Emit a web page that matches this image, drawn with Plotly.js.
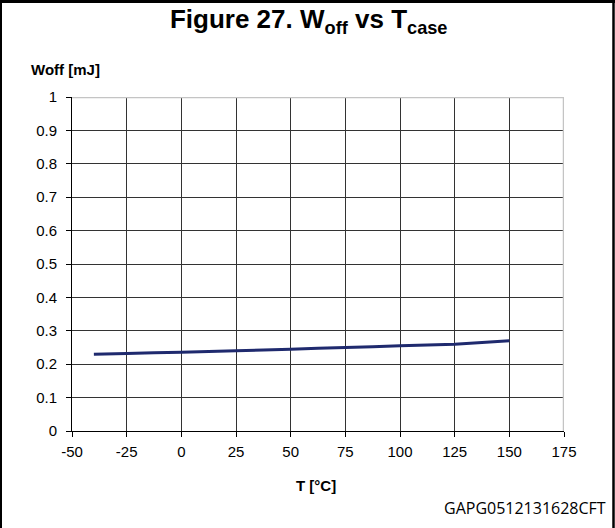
<!DOCTYPE html>
<html>
<head>
<meta charset="utf-8">
<script src="https://cdn.plot.ly/plotly-3.0.1.min.js"></script>
<style>
  html, body { margin: 0; padding: 0; background: #fff; }
  #chart { width: 615px; height: 528px; }
</style>
</head>
<body>
<div id="chart"></div>
<script>
// Data
const temperature = [-40, -25, 0, 25, 50, 75, 100, 125, 150];
const woff = [0.230, 0.232, 0.236, 0.240, 0.245, 0.250, 0.255, 0.260, 0.270];
const xTicks = [-50, -25, 0, 25, 50, 75, 100, 125, 150, 175];
const yTicks = [0, 0.1, 0.2, 0.3, 0.4, 0.5, 0.6, 0.7, 0.8, 0.9, 1];
const yTickLabels = ['0', '0.1', '0.2', '0.3', '0.4', '0.5', '0.6', '0.7', '0.8', '0.9', '1'];

const W = 615, H = 528;
const M = { l: 72, r: 51, t: 97, b: 97 };
const pw = W - M.l - M.r, ph = H - M.t - M.b;
const px = x => (x - M.l) / pw;
const py = y => (H - M.b - y) / ph;

const trace = {
  x: temperature,
  y: woff,
  type: 'scatter',
  mode: 'lines',
  line: { color: '#1f2a6e', width: 3, shape: 'spline', smoothing: 0.3 },
  hoverinfo: 'x+y'
};

const tickFont = { family: 'Liberation Sans, Arial, sans-serif', size: 15, color: '#000' };

const layout = {
  width: W, height: H,
  margin: M,
  paper_bgcolor: '#fff',
  plot_bgcolor: '#fff',
  showlegend: false,
  title: {
    text: 'Figure 27. W<sub>off</sub> vs T<sub>case</sub>',
    font: { family: 'Liberation Sans, Arial, sans-serif', size: 26, color: '#000', weight: 'bold' },
    x: 0.502, xanchor: 'center', xref: 'container',
    y: 1 - 19 / H, yanchor: 'middle', yref: 'container'
  },
  xaxis: {
    range: [-50, 175],
    tickvals: xTicks,
    ticktext: xTicks.map(String),
    showgrid: true, gridcolor: '#333', gridwidth: 1,
    zeroline: false,
    showline: true, linecolor: '#000', linewidth: 1,
    ticks: 'outside', ticklen: 5, tickcolor: '#000', tickwidth: 1,
    ticklabelstandoff: 2,
    tickfont: tickFont,
    fixedrange: true
  },
  yaxis: {
    range: [0, 1],
    tickvals: yTicks,
    ticktext: yTickLabels,
    showgrid: true, gridcolor: '#333', gridwidth: 1,
    zeroline: false,
    showline: true, linecolor: '#000', linewidth: 1,
    ticks: 'outside', ticklen: 5, tickcolor: '#000', tickwidth: 1,
    ticklabelstandoff: 6,
    tickfont: tickFont,
    fixedrange: true
  },
  annotations: [
    {
      text: '<b>Woff [mJ]</b>', xref: 'paper', yref: 'paper',
      x: px(29), y: py(69), xanchor: 'left', yanchor: 'middle', showarrow: false,
      font: { family: 'Liberation Sans, Arial, sans-serif', size: 15, color: '#000' }
    },
    {
      text: '<b>T [°C]</b>', xref: 'paper', yref: 'paper',
      x: px(316), y: py(485), xanchor: 'center', yanchor: 'middle', showarrow: false,
      font: { family: 'Liberation Sans, Arial, sans-serif', size: 15, color: '#000' }
    },
    {
      text: 'GAPG0512131628CFT', xref: 'paper', yref: 'paper',
      x: px(608), y: py(508), xanchor: 'right', yanchor: 'middle', showarrow: false,
      font: { family: 'Open Sans, Noto Sans, sans-serif', size: 16, color: '#000' }
    }
  ],
  shapes: [
    // light grey top and right plot borders
    { type: 'line', xref: 'x', yref: 'y', x0: -50, x1: 175, y0: 1, y1: 1, line: { color: '#c4c4c4', width: 2.5 } },
    { type: 'line', xref: 'x', yref: 'y', x0: 175, x1: 175, y0: 0, y1: 1, line: { color: '#c4c4c4', width: 2.5 } },
    // outer figure frame
    { type: 'line', xref: 'paper', yref: 'paper', x0: px(0), x1: px(W), y0: py(1.5), y1: py(1.5), line: { color: '#000', width: 3 }, layer: 'above' },
    { type: 'line', xref: 'paper', yref: 'paper', x0: px(1), x1: px(1), y0: py(0), y1: py(H), line: { color: '#000', width: 2 }, layer: 'above' },
    { type: 'line', xref: 'paper', yref: 'paper', x0: px(613.5), x1: px(613.5), y0: py(0), y1: py(H), line: { color: '#000', width: 2.5 }, layer: 'above' }
  ]
};

Plotly.newPlot('chart', [trace], layout, { displayModeBar: false, staticPlot: true });
</script>
</body>
</html>
